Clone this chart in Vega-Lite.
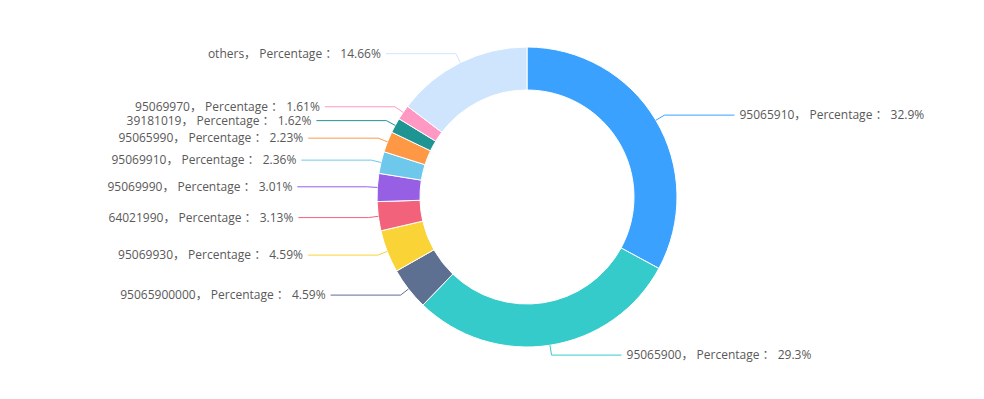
{
  "$schema": "https://vega.github.io/schema/vega-lite/v6.json",
  "width": 914,
  "height": 394,
  "autosize": {"type": "none"},
  "padding": {"left": 70, "top": 0, "right": 0, "bottom": 5},
  "background": "#ffffff",
  "config": {"view": {"stroke": null}, "text": {"font": "Open Sans, Noto Sans CJK SC"}},
  "data": {
    "values": [
      {"name": "95065910", "value": 32.9},
      {"name": "95065900", "value": 29.3},
      {"name": "95065900000", "value": 4.59},
      {"name": "95069930", "value": 4.59},
      {"name": "64021990", "value": 3.13},
      {"name": "95069990", "value": 3.01},
      {"name": "95069910", "value": 2.36},
      {"name": "95065990", "value": 2.23},
      {"name": "39181019", "value": 1.62},
      {"name": "95069970", "value": 1.61},
      {"name": "others", "value": 14.66}
    ]
  },
  "transform": [
    {"window": [{"op": "row_number", "as": "idx"}]},
    {"joinaggregate": [{"op": "sum", "field": "value", "as": "total"}]},
    {"window": [{"op": "sum", "field": "value", "as": "cum"}], "frame": [null, 0], "sort": [{"field": "idx"}]},
    {"calculate": "2*PI*(datum.cum - datum.value/2)/datum.total", "as": "mid"},
    {"calculate": "150*sin(datum.mid)", "as": "x0"},
    {"calculate": "150*cos(datum.mid)", "as": "y0"},
    {"calculate": "160*sin(datum.mid)", "as": "xe"},
    {"calculate": "160*cos(datum.mid)", "as": "ye"},
    {"calculate": "datum.mid > PI ? datum.xe - 70 : datum.xe + 70", "as": "xEnd"},
    {"calculate": "datum.mid > PI ? 'left' : 'right'", "as": "side"},
    {"calculate": "datum.name + '， Percentage ： ' + datum.value + '%'", "as": "label"}
  ],
  "encoding": {
    "color": {
      "field": "name",
      "type": "nominal",
      "legend": null,
      "scale": {
        "domain": ["95065910", "95065900", "95065900000", "95069930", "64021990", "95069990", "95069910", "95065990", "39181019", "95069970", "others"],
        "range": ["#3BA1FF", "#36CBCB", "#5D7092", "#FAD337", "#F2637B", "#975FE4", "#6DC8EC", "#FF9845", "#1E9493", "#FF99C3", "#CFE5FD"]
      }
    }
  },
  "layer": [
    {
      "mark": {"type": "arc", "outerRadius": 150, "innerRadius": 107, "stroke": "#ffffff", "strokeWidth": 1},
      "encoding": {
        "theta": {"field": "value", "type": "quantitative", "stack": true},
        "order": {"field": "idx", "type": "quantitative"}
      }
    },
    {
      "mark": {"type": "rule", "strokeWidth": 1},
      "encoding": {
        "x": {"field": "x0", "type": "quantitative", "scale": {"domain": [-457, 457], "nice": false, "zero": false}, "axis": null},
        "y": {"field": "y0", "type": "quantitative", "scale": {"domain": [-197, 197], "nice": false, "zero": false}, "axis": null},
        "x2": {"field": "xe"},
        "y2": {"field": "ye"}
      }
    },
    {
      "mark": {"type": "rule", "strokeWidth": 1},
      "encoding": {
        "x": {"field": "xe", "type": "quantitative"},
        "y": {"field": "ye", "type": "quantitative"},
        "x2": {"field": "xEnd"}
      }
    },
    {
      "transform": [{"filter": "datum.side == 'left'"}],
      "mark": {"type": "text", "align": "right", "baseline": "middle", "dx": -5, "fontSize": 12},
      "encoding": {
        "x": {"field": "xEnd", "type": "quantitative"},
        "y": {"field": "ye", "type": "quantitative"},
        "text": {"field": "label"},
        "color": {"value": "#595959"}
      }
    },
    {
      "transform": [{"filter": "datum.side == 'right'"}],
      "mark": {"type": "text", "align": "left", "baseline": "middle", "dx": 5, "fontSize": 12},
      "encoding": {
        "x": {"field": "xEnd", "type": "quantitative"},
        "y": {"field": "ye", "type": "quantitative"},
        "text": {"field": "label"},
        "color": {"value": "#595959"}
      }
    }
  ]
}
